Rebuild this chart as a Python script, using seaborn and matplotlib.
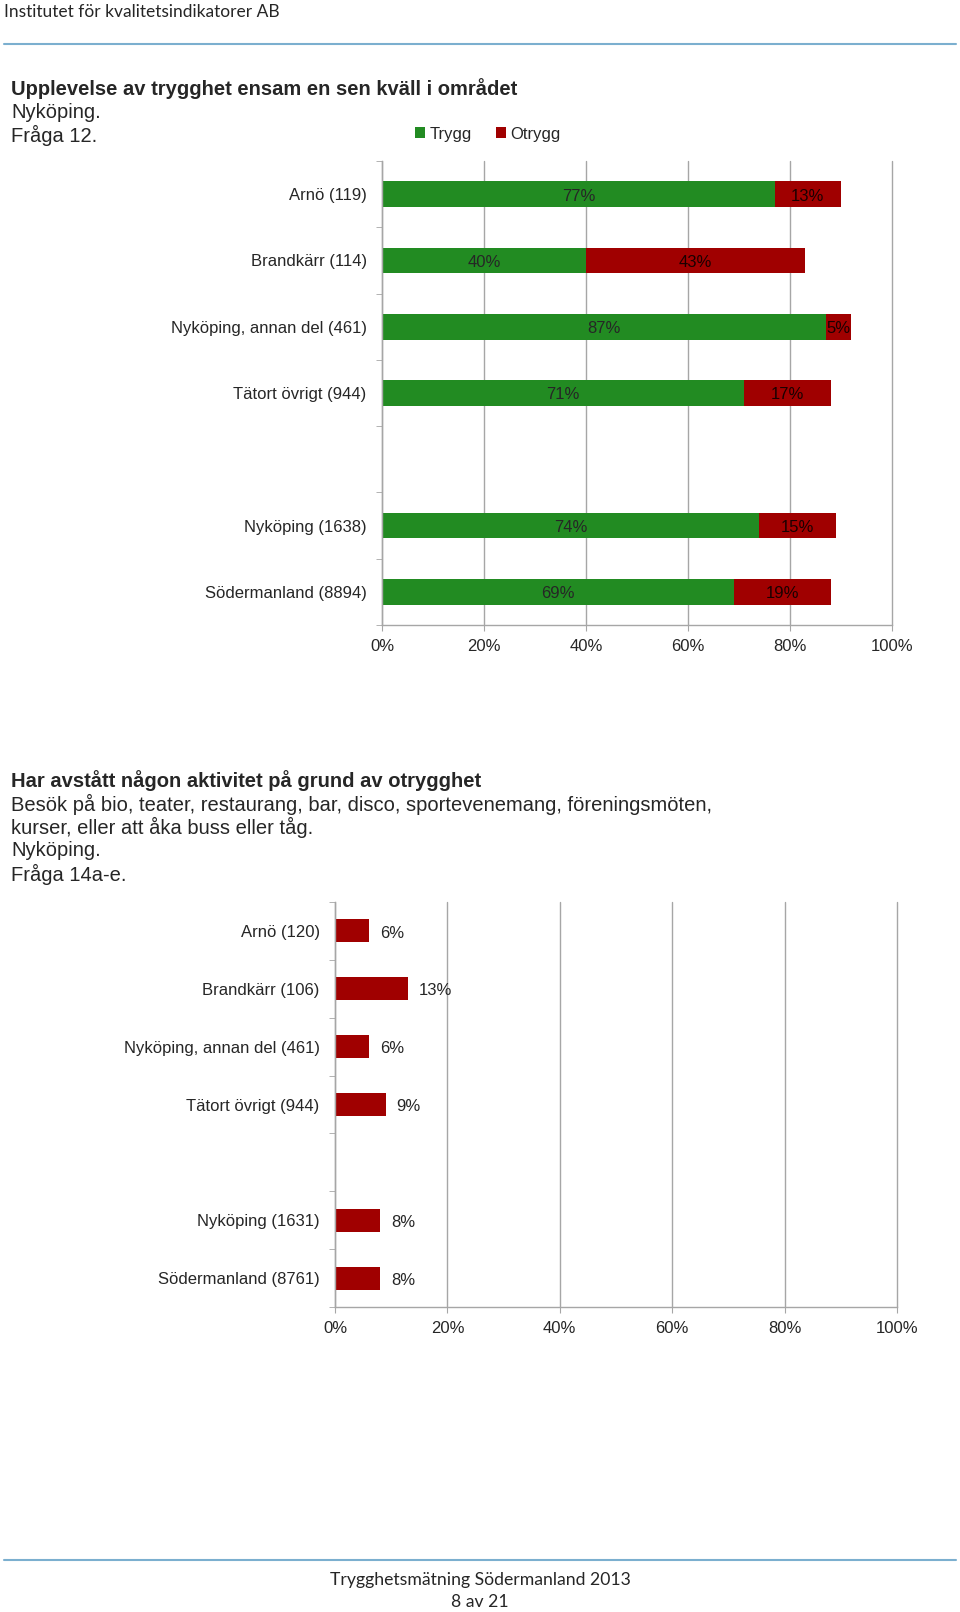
import numpy as np
import pandas as pd
import matplotlib
matplotlib.use("Agg")
import matplotlib.pyplot as plt
import seaborn as sns

# --- data -------------------------------------------------------------
omraden_trygg = ["Arnö (119)", "Brandkärr (114)", "Nyköping, annan del (461)",
                 "Tätort övrigt (944)", "Nyköping (1638)", "Södermanland (8894)"]
trygg = [77, 40, 87, 71, 74, 69]
otrygg = [13, 43, 5, 17, 15, 19]

omraden_avstatt = ["Arnö (120)", "Brandkärr (106)", "Nyköping, annan del (461)",
                   "Tätort övrigt (944)", "Nyköping (1631)", "Södermanland (8761)"]
avstatt = [6, 13, 6, 9, 8, 8]

x_ticks = [0, 20, 40, 60, 80, 100]
x_ticklabels = ["0%", "20%", "40%", "60%", "80%", "100%"]

GREEN = "#228B22"
RED = "#A00000"
GRID = "#A6A6A6"
LINE_BLUE = "#7BAFCF"

sns.set_style("white")
plt.rcParams["font.family"] = ["Liberation Sans", "DejaVu Sans"]
plt.rcParams["font.size"] = 12

W, H = 960, 1612
fig = plt.figure(figsize=(W / 100, H / 100), dpi=100)


def fx(px):
    return px / W


def fy(py):
    return 1 - py / H


def axes_px(left, top, right, bottom):
    return fig.add_axes([fx(left), fy(bottom), (right - left) / W, (bottom - top) / H])


def style_axis(ax, n_slots, labels):
    ax.set_xlim(0, 100)
    ax.set_ylim(n_slots - 0.5, -0.5)
    ax.set_xticks(x_ticks)
    ax.set_xticklabels(x_ticklabels, fontsize=12)
    ax.set_yticks(range(n_slots))
    ax.set_yticklabels(labels, fontsize=12)
    ax.set_yticks(np.arange(-0.5, n_slots, 1), minor=True)
    ax.tick_params(axis="y", which="major", length=0, pad=11)
    ax.tick_params(axis="y", which="minor", length=4, color=GRID, direction="out", left=True)
    ax.tick_params(axis="x", which="major", length=4, color=GRID, direction="out",
                   bottom=True, pad=6)
    ax.set_xlabel("")
    ax.set_ylabel("")
    ax.xaxis.grid(True, color=GRID, linewidth=1)
    ax.yaxis.grid(False)
    for line in ax.get_xgridlines():
        line.set_clip_on(False)
    ax.set_axisbelow(True)
    for side in ["top", "right"]:
        ax.spines[side].set_visible(False)
    for side in ["left", "bottom"]:
        ax.spines[side].set_color(GRID)
        ax.spines[side].set_linewidth(1)


# --- header / footer ---------------------------------------------------
fig.text(fx(4), fy(12), "Institutet för kvalitetsindikatorer AB", family="Lato",
         fontsize=12.5, va="center", ha="left")
fig.add_artist(plt.Line2D([fx(4), fx(956)], [fy(44), fy(44)], color=LINE_BLUE, lw=1.5))
fig.add_artist(plt.Line2D([fx(4), fx(956)], [fy(1560), fy(1560)], color=LINE_BLUE, lw=1.5))
fig.text(0.5, fy(1580), "Trygghetsmätning Södermanland 2013", family="Lato",
         fontsize=12.7, va="center", ha="center")
fig.text(0.5, fy(1602), "8 av 21", family="Lato", fontsize=12.7, va="center", ha="center")

# --- chart 1: trygghet --------------------------------------------------
fig.text(fx(11), fy(89), "Upplevelse av trygghet ensam en sen kväll i området",
         fontsize=14.5, weight="bold", va="center")
fig.text(fx(11), fy(112), "Nyköping.", fontsize=14.5, va="center")
fig.text(fx(11), fy(135), "Fråga 12.", fontsize=14.5, va="center")

order_top = omraden_trygg[:4] + [" "] + omraden_trygg[4:]
df_top = pd.DataFrame({"omrade": omraden_trygg, "Trygg": trygg, "Otrygg": otrygg})
df_top["total"] = df_top["Trygg"] + df_top["Otrygg"]

ax1 = axes_px(382, 161, 892, 625)
sns.barplot(data=df_top, x="total", y="omrade", order=order_top, color=RED,
            saturation=1, width=0.39, errorbar=None, linewidth=0, label="Otrygg", ax=ax1)
sns.barplot(data=df_top, x="Trygg", y="omrade", order=order_top, color=GREEN,
            saturation=1, width=0.39, errorbar=None, linewidth=0, label="Trygg", ax=ax1)
style_axis(ax1, len(order_top), order_top)

for _, row in df_top.iterrows():
    pos = order_top.index(row["omrade"])
    ax1.text(row["Trygg"] / 2, pos + 0.03, f"{row['Trygg']}%", ha="center", va="center",
             fontsize=12)
    ax1.text(row["Trygg"] + row["Otrygg"] / 2, pos + 0.03, f"{row['Otrygg']}%",
             ha="center", va="center", fontsize=12, color="#1a0000")

handles, labels = ax1.get_legend_handles_labels()
lookup = dict(zip(labels, handles))
if ax1.get_legend() is not None:
    ax1.get_legend().remove()
fig.legend([lookup["Trygg"], lookup["Otrygg"]], ["Trygg", "Otrygg"], ncol=2,
           loc="center left", bbox_to_anchor=(fx(415), fy(134)), frameon=False,
           fontsize=12, handlelength=0.6, handleheight=0.6, handletextpad=0.25,
           columnspacing=1.5, borderaxespad=0, borderpad=0)

# --- chart 2: avstått aktivitet ------------------------------------------
fig.text(fx(11), fy(781), "Har avstått någon aktivitet på grund av otrygghet",
         fontsize=14.5, weight="bold", va="center")
fig.text(fx(11), fy(804), "Besök på bio, teater, restaurang, bar, disco, sportevenemang, föreningsmöten,",
         fontsize=14.5, va="center")
fig.text(fx(11), fy(827), "kurser, eller att åka buss eller tåg.", fontsize=14.5, va="center")
fig.text(fx(11), fy(851), "Nyköping.", fontsize=14.5, va="center")
fig.text(fx(11), fy(874), "Fråga 14a-e.", fontsize=14.5, va="center")

order_bot = omraden_avstatt[:4] + [" "] + omraden_avstatt[4:]
df_bot = pd.DataFrame({"omrade": omraden_avstatt, "andel": avstatt})

ax2 = axes_px(335, 902, 897, 1307)
sns.barplot(data=df_bot, x="andel", y="omrade", order=order_bot, color=RED,
            saturation=1, width=0.4, errorbar=None, linewidth=0, ax=ax2)
style_axis(ax2, len(order_bot), order_bot)
for cont in ax2.containers:
    labs = ax2.bar_label(cont, labels=[f"{v}%" for v in avstatt], padding=8, fontsize=12)
    for t in labs:
        t.xyann = (8, -1.5)

fig.savefig("out.png", dpi=100)
